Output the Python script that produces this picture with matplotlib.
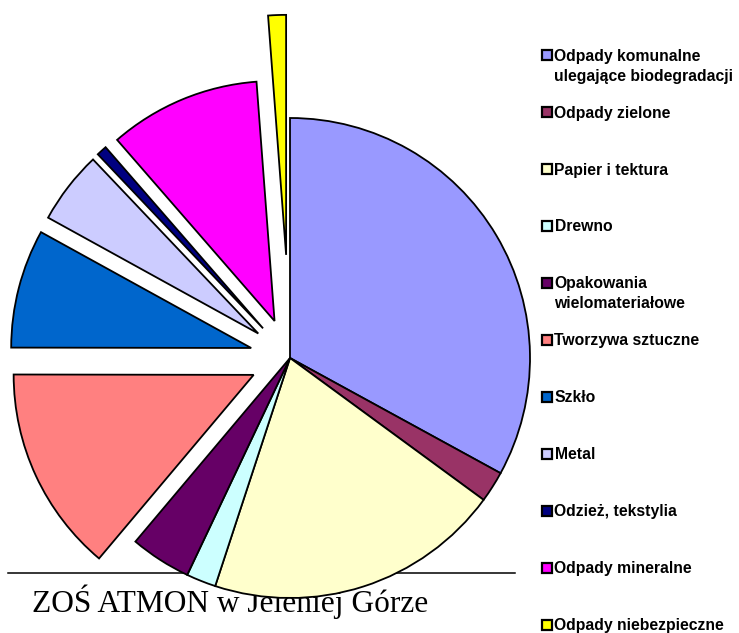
import matplotlib.pyplot as plt
from matplotlib.patches import Rectangle

# Waste composition (share in %)
categories = ['Odpady komunalne\nulegające biodegradacji', 'Odpady zielone', 'Papier i tektura',
              'Drewno', 'Opakowania\nwielomateriałowe', 'Tworzywa sztuczne', 'Szkło', 'Metal',
              'Odzież, tekstylia', 'Odpady mineralne', 'Odpady niebezpieczne']
shares = [33.0, 2.1, 20.0, 2.0, 4.1, 13.9, 8.0, 4.9, 0.7, 10.2, 1.2]
colors = ['#9999FF', '#993366', '#FFFFCC', '#CCFFFF', '#660066', '#FF8080',
          '#0066CC', '#CCCCFF', '#000080', '#FF00FF', '#FFFF00']
explode = [0, 0, 0, 0, 0, 0.167, 0.167, 0.167, 0.167, 0.167, 0.43]

W, H = 739, 633
cx, cy, R = 290, 358, 240  # pie centre / radius in pixels


def px(x, y):
    # pixel (from top-left) -> data coords of the full-figure axes
    return (x - cx) / R, (cy - y) / R


fig = plt.figure(figsize=(W / 100, H / 100), dpi=100)
ax = fig.add_axes([0, 0, 1, 1])

ax.pie(shares, colors=colors, explode=explode, startangle=90, counterclock=False,
       radius=1, wedgeprops=dict(edgecolor='black', linewidth=1.3, zorder=2))
ax.set_xlim(px(0, 0)[0], px(W, 0)[0])
ax.set_ylim(px(0, H)[1], px(0, 0)[1])
ax.set_aspect('equal')
ax.axis('off')

# footer line and text sit behind the pie
x0, yl = px(8, 573)
x1, _ = px(515, 573)
ax.plot([x0, x1], [yl, yl], color='black', linewidth=1.1, zorder=0.5)
tx, ty = px(32, 612)
ax.text(tx, ty, 'ZOŚ ATMON w Jeleniej Górze', family='Liberation Serif', fontsize=22.6,
        ha='left', va='baseline', zorder=0.5)

# legend drawn by hand, one entry every ~57 px
first_base, step, line_gap = 60.7, 56.93, 20
for i, (lab, col) in enumerate(zip(categories, colors)):
    base = first_base + i * step
    fig.patches.append(Rectangle((542 / W, 1 - (base - 0.5) / H), 10 / W, 10 / H,
                                 transform=fig.transFigure, facecolor=col,
                                 edgecolor='black', linewidth=1.6))
    for j, line in enumerate(lab.split('\n')):
        fig.text(554.5 / W, 1 - (base + j * line_gap) / H, line, family='Liberation Sans',
                 fontweight='bold', fontsize=11.3, ha='left', va='baseline')

fig.savefig('out.png', dpi=100)
